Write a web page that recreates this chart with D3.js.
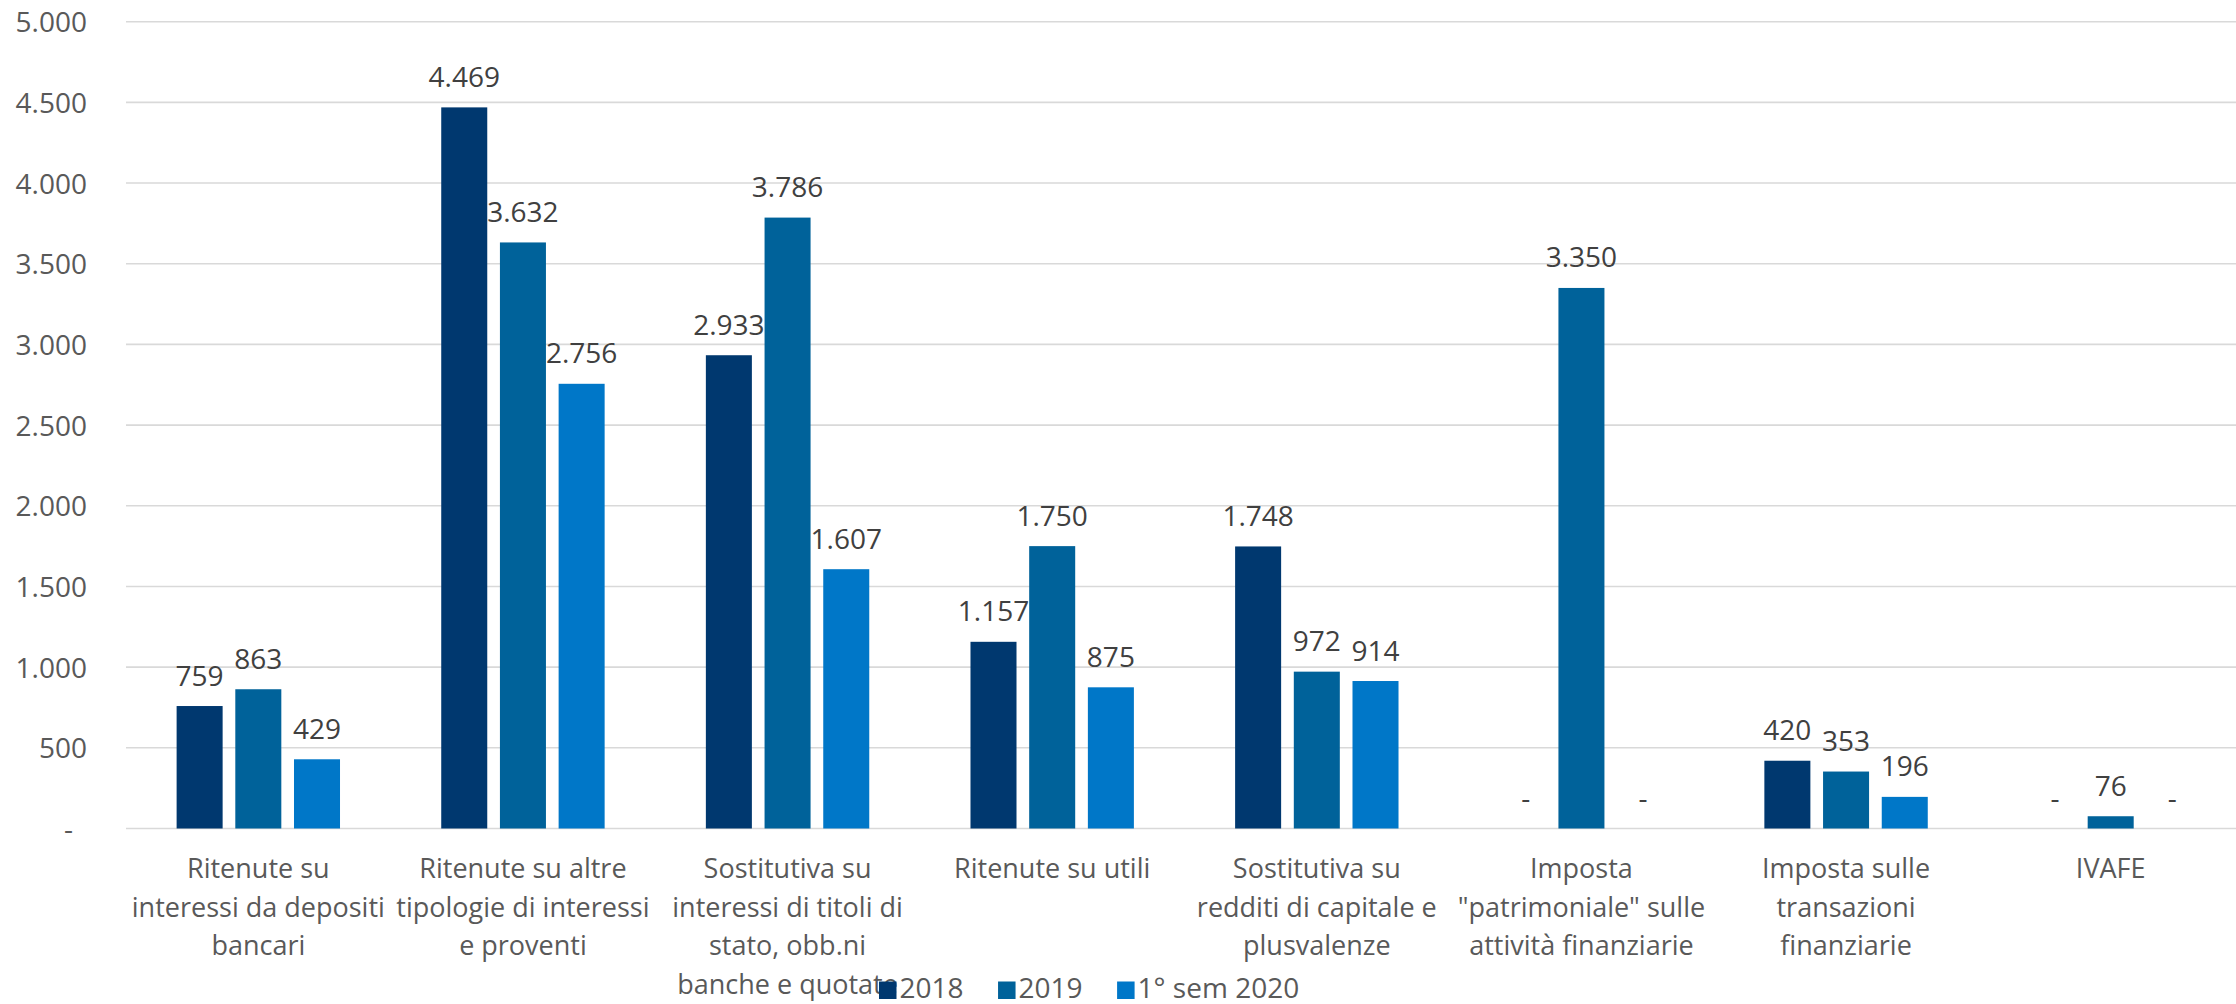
<!DOCTYPE html>
<html>
<head>
<meta charset="utf-8">
<script src="https://cdn.jsdelivr.net/npm/d3@7/dist/d3.min.js"></script>
<style>
  html, body { margin: 0; padding: 0; background: #ffffff; }
  svg { display: block; }
  text { font-family: "Open Sans", "Noto Sans", sans-serif; }
</style>
</head>
<body>
<svg id="chart" width="2236" height="1004"></svg>
<script>
// ---- DATA ----
const categories = [
  "Ritenute su interessi da depositi bancari",
  "Ritenute su altre tipologie di interessi e proventi",
  "Sostitutiva su interessi di titoli di stato, obb.ni banche e quotate",
  "Ritenute su utili",
  "Sostitutiva su redditi di capitale e plusvalenze",
  "Imposta \"patrimoniale\" sulle attività finanziarie",
  "Imposta sulle transazioni finanziarie",
  "IVAFE"
];
const categoryLines = [
  ["Ritenute su", "interessi da depositi", "bancari"],
  ["Ritenute su altre", "tipologie di interessi", "e proventi"],
  ["Sostitutiva su", "interessi di titoli di", "stato, obb.ni", "banche e quotate"],
  ["Ritenute su utili"],
  ["Sostitutiva su", "redditi di capitale e", "plusvalenze"],
  ["Imposta", "\"patrimoniale\" sulle", "attività finanziarie"],
  ["Imposta sulle", "transazioni", "finanziarie"],
  ["IVAFE"]
];
const seriesNames = ["2018", "2019", "1° sem 2020"];
const values2018 = [759, 4469, 2933, 1157, 1748, 0, 420, 0];
const values2019 = [863, 3632, 3786, 1750, 972, 3350, 353, 76];
const valuesSem2020 = [429, 2756, 1607, 875, 914, 0, 196, 0];
const seriesValues = [values2018, values2019, valuesSem2020];
const seriesColors = ["#00386F", "#00629A", "#0077C8"];
const yTicks = [0, 500, 1000, 1500, 2000, 2500, 3000, 3500, 4000, 4500, 5000];

// ---- LAYOUT ----
const svg = d3.select("#chart");
const plotLeft = 126, plotRight = 2243, plotTop = 21.7, plotBottom = 828.5;
const groupWidth = 163.4;

const itFmt = d3.formatLocale({ decimal: ",", thousands: ".", grouping: [3], currency: ["€", ""] });
const fmt = v => v === 0 ? "-" : itFmt.format(",d")(v);

const y = d3.scaleLinear().domain([0, 5000]).range([plotBottom, plotTop]);
const x0 = d3.scaleBand().domain(d3.range(categories.length)).range([plotLeft, plotRight]).padding(0);
const x1 = d3.scaleBand().domain(d3.range(seriesNames.length)).range([0, groupWidth]).paddingInner(0.216).paddingOuter(0);
const groupOffset = (x0.bandwidth() - groupWidth) / 2;

// gridlines
svg.append("g").selectAll("line").data(yTicks).join("line")
  .attr("x1", plotLeft).attr("x2", plotRight)
  .attr("y1", d => y(d)).attr("y2", d => y(d))
  .attr("stroke", "#D9D9D9").attr("stroke-width", 1.6);

// y axis labels
const yAxis = d3.axisLeft(y).tickValues(yTicks).tickFormat(fmt).tickSize(0).tickPadding(0);
const yg = svg.append("g").attr("transform", "translate(87,0)").call(yAxis);
yg.select(".domain").remove();
yg.selectAll("text")
  .attr("font-family", "'Open Sans', sans-serif")
  .attr("font-size", 28).attr("fill", "#595959")
  .attr("dy", "0.36em")
  .attr("x", d => d === 0 ? -14 : 0);

// bars
const groups = svg.append("g").selectAll("g").data(categories).join("g")
  .attr("transform", (d, i) => `translate(${x0(i) + groupOffset},0)`);

groups.each(function (cat, ci) {
  const g = d3.select(this);
  const recs = seriesValues.map((vals, si) => ({ si, v: vals[ci] }));
  g.selectAll("rect").data(recs.filter(r => r.v > 0)).join("rect")
    .attr("x", r => x1(r.si)).attr("width", x1.bandwidth())
    .attr("y", r => y(r.v)).attr("height", r => y(0) - y(r.v))
    .attr("fill", r => seriesColors[r.si]);
});

// data labels (drawn on top)
const lab = svg.append("g");
categories.forEach((cat, ci) => {
  seriesValues.forEach((vals, si) => {
    const v = vals[ci];
    lab.append("text")
      .attr("x", x0(ci) + groupOffset + x1(si) + x1.bandwidth() / 2 + (v === 0 ? 3 : 0))
      .attr("y", y(v) - 20.5)
      .attr("text-anchor", "middle")
      .attr("font-size", 28).attr("fill", "#404040")
      .text(fmt(v));
  });
});

// category labels
const cl = svg.append("g");
categoryLines.forEach((lines, ci) => {
  const t = cl.append("text")
    .attr("text-anchor", "middle")
    .attr("font-size", 27).attr("fill", "#595959");
  lines.forEach((ln, li) => {
    t.append("tspan")
      .attr("x", x0(ci) + x0.bandwidth() / 2)
      .attr("y", 878 + li * 38.5)
      .text(ln);
  });
});

// legend
const leg = svg.append("g");
let lx = 879;
seriesNames.forEach((name, si) => {
  leg.append("rect").attr("x", lx).attr("y", 981.5).attr("width", 17.5).attr("height", 17.5)
    .attr("fill", seriesColors[si]);
  const t = leg.append("text").attr("x", lx + 20.5).attr("y", 997.5)
    .attr("font-size", 28).attr("fill", "#595959").text(name);
  lx += 20.5 + t.node().getComputedTextLength() + 34.5;
});
</script>
</body>
</html>
